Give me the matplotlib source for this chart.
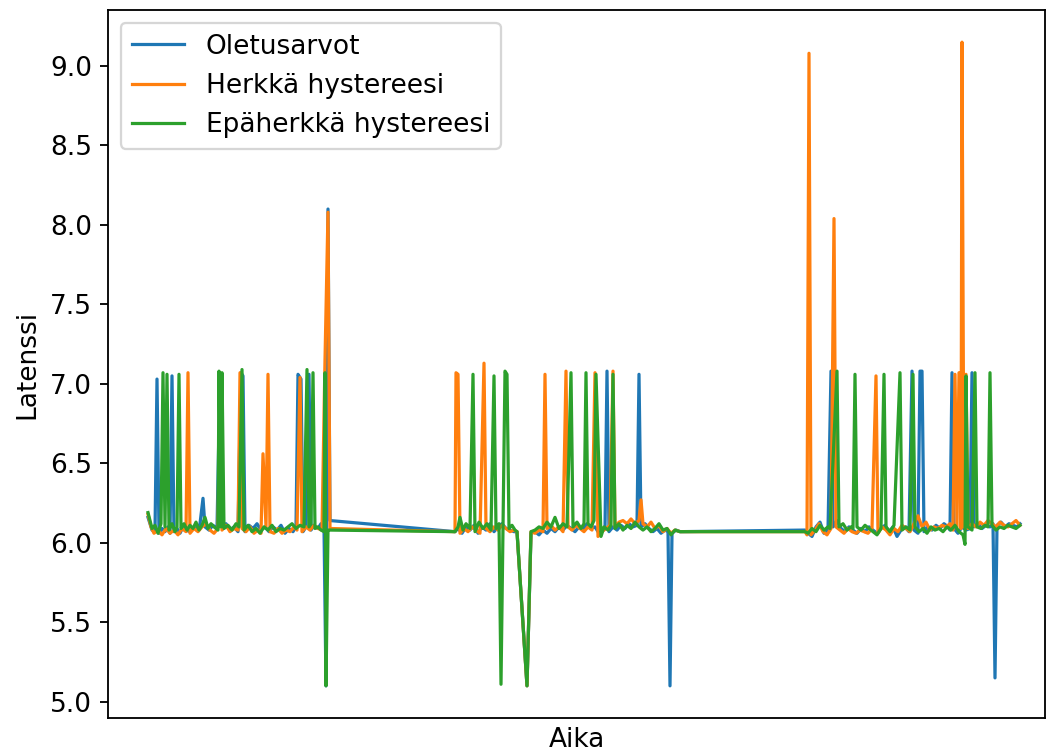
import numpy as np
import matplotlib
matplotlib.use("Agg")
import matplotlib.pyplot as plt

# (aika, latenssi) pairs, aika in arbitrary seconds
oletus = [
    (148, 6.16), (150, 6.12), (152, 6.08), (155, 6.07), (157, 7.03), (159, 6.06), (162, 6.09),
    (165, 6.07), (168, 6.10), (170, 6.06), (172, 7.05), (174, 6.07), (177, 6.09), (180, 6.06),
    (183, 6.10), (186, 6.08), (190, 6.07), (194, 6.10), (197, 6.08), (200, 6.12), (203, 6.28),
    (205, 6.10), (209, 6.08), (213, 6.11), (217, 6.09), (220, 7.05), (222, 6.10), (226, 6.12),
    (230, 6.08), (234, 6.10), (238, 6.07), (241, 7.07), (243, 7.05), (245, 6.07), (249, 6.11),
    (253, 6.09), (257, 6.12), (261, 6.08), (265, 6.10), (269, 6.07), (273, 6.10), (277, 6.08),
    (281, 6.11), (285, 6.06), (289, 6.09), (293, 6.07), (296, 6.10), (298, 7.06), (301, 7.03),
    (303, 6.07), (306, 6.10), (309, 7.06), (311, 6.08), (314, 6.11), (318, 6.09), (321, 6.12),
    (324, 6.10), (326, 5.10), (328, 8.10), (330, 6.14),
    (455, 6.07), (458, 6.09), (462, 6.06), (466, 6.10), (470, 6.08), (474, 6.11), (478, 6.06),
    (482, 6.10), (486, 6.08), (490, 6.12), (494, 6.07), (498, 6.10), (502, 6.12), (506, 6.09),
    (510, 6.08), (514, 6.07), (517, 6.07), (527, 5.10), (531, 6.06), (535, 6.07), (539, 6.05),
    (543, 6.08), (547, 6.06), (551, 6.09), (555, 6.07), (559, 6.10), (563, 6.08), (567, 6.11),
    (571, 6.09), (575, 6.07), (579, 6.10), (583, 6.08), (587, 6.12), (591, 6.09), (595, 6.10),
    (599, 6.06), (603, 6.08), (605, 6.09), (607, 7.08), (609, 6.07), (613, 6.10), (617, 6.08),
    (621, 6.11), (625, 6.09), (629, 6.12), (633, 6.10), (637, 6.11), (639, 7.06), (641, 6.10),
    (645, 6.12), (649, 6.09), (653, 6.07), (657, 6.09), (661, 6.06), (665, 6.08), (668, 6.07),
    (670, 5.10), (672, 6.06), (676, 6.08), (680, 6.07),
    (805, 6.08), (808, 6.06), (812, 6.04), (816, 6.10), (820, 6.13), (824, 6.06), (828, 6.08),
    (831, 7.08), (833, 6.10), (837, 6.14), (841, 6.09), (845, 6.07), (849, 6.10), (853, 6.08),
    (857, 6.06), (861, 6.09), (865, 6.07), (869, 6.10), (873, 6.08), (877, 6.06), (881, 6.09),
    (885, 6.11), (889, 6.07), (893, 6.10), (897, 6.04), (901, 6.08), (905, 6.10), (909, 6.07),
    (912, 7.08), (914, 6.08), (918, 6.06), (920, 7.08), (922, 7.08), (924, 6.07), (928, 6.10),
    (932, 6.08), (936, 6.11), (940, 6.09), (944, 6.12), (948, 6.10), (950, 6.08), (952, 7.07),
    (954, 6.09), (958, 6.06), (962, 6.10), (966, 6.08), (970, 6.09), (972, 7.07), (974, 6.10),
    (978, 6.12), (982, 6.09), (986, 6.11), (990, 6.10), (993, 6.12), (995, 5.15), (997, 6.11),
    (1001, 6.13), (1005, 6.10), (1009, 6.12), (1013, 6.11), (1017, 6.10), (1020, 6.12),
]

herkka = [
    (148, 6.18), (151, 6.10), (154, 6.06), (158, 6.08), (162, 6.05), (166, 6.09), (170, 6.06),
    (174, 6.08), (178, 6.05), (182, 6.09), (186, 6.07), (188, 7.07), (190, 6.06), (194, 6.09),
    (198, 6.07), (202, 6.10), (206, 6.12), (210, 6.08), (214, 6.06), (218, 6.09), (220, 7.07),
    (222, 6.08), (226, 6.11), (230, 6.07), (234, 6.09), (238, 6.08), (240, 7.07), (242, 6.09),
    (246, 6.07), (250, 6.10), (254, 6.06), (258, 6.08), (261, 6.06), (263, 6.56), (266, 6.10),
    (268, 7.06), (270, 6.07), (274, 6.06), (278, 6.09), (282, 6.06), (286, 6.08), (290, 6.07),
    (294, 6.10), (297, 6.08), (300, 7.04), (302, 6.07), (306, 6.10), (310, 6.08), (314, 6.11),
    (318, 6.09), (322, 6.08), (325, 7.15), (328, 8.08), (330, 6.09),
    (455, 6.07), (456, 7.07), (458, 7.06), (460, 6.06), (464, 6.09), (468, 6.07), (472, 6.10),
    (476, 6.08), (480, 6.06), (484, 7.13), (486, 6.09), (490, 6.07), (494, 6.10), (498, 6.08),
    (502, 6.11), (506, 6.09), (510, 6.07), (514, 6.08), (517, 6.07), (527, 5.10), (531, 6.07),
    (535, 6.06), (539, 6.08), (543, 6.07), (545, 7.06), (547, 6.09), (551, 6.11), (555, 6.08),
    (559, 6.10), (563, 6.07), (566, 7.08), (568, 6.10), (572, 6.08), (576, 6.11), (580, 6.09),
    (584, 6.07), (588, 6.10), (592, 6.08), (595, 7.07), (598, 6.04), (602, 6.07), (606, 6.09),
    (610, 6.11), (613, 7.08), (615, 6.10), (619, 6.13), (623, 6.14), (627, 6.12), (631, 6.15),
    (635, 6.12), (639, 6.14), (641, 6.27), (643, 6.12), (647, 6.10), (651, 6.13), (655, 6.09),
    (659, 6.11), (663, 6.07), (667, 6.09), (671, 6.06), (675, 6.08), (680, 6.07),
    (805, 6.07), (807, 6.05), (809, 9.08), (811, 6.05), (815, 6.08), (819, 6.12), (823, 6.07),
    (827, 6.05), (831, 6.09), (834, 8.04), (836, 6.10), (840, 6.08), (844, 6.06), (848, 6.09),
    (852, 6.07), (856, 6.06), (860, 6.08), (864, 6.07), (868, 6.06), (872, 6.09), (876, 7.05),
    (878, 6.06), (882, 6.10), (886, 6.08), (890, 6.05), (894, 6.09), (898, 6.07), (902, 6.11),
    (906, 6.09), (910, 6.07), (914, 6.12), (918, 6.17), (922, 6.10), (926, 6.13), (930, 6.08),
    (934, 6.10), (938, 6.09), (942, 6.11), (946, 6.10), (950, 6.12), (953, 6.08), (955, 7.06),
    (957, 6.10), (959, 7.07), (961, 6.09), (962, 9.15), (964, 6.10), (966, 7.06), (968, 6.09),
    (972, 6.12), (976, 6.10), (980, 6.13), (984, 6.11), (988, 6.14), (992, 6.12), (996, 6.10),
    (1000, 6.13), (1004, 6.11), (1008, 6.10), (1012, 6.12), (1016, 6.14), (1020, 6.11),
]

epaherkka = [
    (148, 6.19), (150, 6.14), (152, 6.09), (155, 6.11), (158, 6.06), (161, 6.12), (163, 7.07),
    (165, 6.10), (167, 7.06), (169, 6.08), (172, 6.12), (175, 6.07), (177, 6.10), (179, 7.06),
    (181, 6.09), (184, 6.12), (187, 6.08), (190, 6.11), (193, 6.09), (196, 6.13), (199, 6.08),
    (202, 6.11), (205, 6.16), (208, 6.09), (211, 6.12), (214, 6.10), (218, 6.08), (219, 7.08),
    (221, 6.10), (222, 7.07), (224, 6.09), (228, 6.11), (232, 6.08), (236, 6.12), (239, 6.10),
    (242, 7.09), (244, 6.08), (248, 6.11), (252, 6.07), (256, 6.09), (260, 6.06), (264, 6.10),
    (268, 6.08), (272, 6.11), (276, 6.07), (280, 6.09), (284, 6.08), (288, 6.10), (292, 6.12),
    (296, 6.09), (300, 6.11), (304, 6.10), (307, 7.09), (309, 6.10), (311, 6.12), (313, 7.07),
    (315, 6.09), (318, 6.10), (321, 6.08), (324, 6.07), (325, 7.07), (326, 5.10), (328, 6.08),
    (330, 6.08),
    (455, 6.07), (458, 6.10), (460, 6.16), (463, 6.08), (466, 6.12), (470, 6.09), (473, 7.06),
    (475, 6.07), (479, 6.13), (483, 6.09), (487, 6.12), (491, 6.08), (494, 7.05), (496, 6.09),
    (499, 6.12), (501, 5.11), (503, 6.10), (505, 7.08), (507, 7.06), (509, 6.09), (512, 6.11),
    (515, 6.08), (517, 6.07), (527, 5.10), (531, 6.07), (535, 6.08), (539, 6.10), (543, 6.09),
    (547, 6.13), (551, 6.10), (555, 6.16), (559, 6.09), (563, 6.12), (567, 6.10), (571, 7.07),
    (573, 6.10), (577, 6.13), (581, 6.09), (584, 6.12), (586, 7.07), (588, 6.12), (591, 6.10),
    (594, 6.14), (596, 7.06), (601, 6.04), (604, 6.10), (608, 6.08), (611, 6.11), (613, 7.06),
    (615, 6.09), (619, 6.12), (623, 6.08), (627, 6.11), (631, 6.09), (635, 6.13), (639, 6.10),
    (643, 6.08), (647, 6.10), (651, 6.07), (655, 6.09), (659, 6.12), (663, 6.08), (667, 6.09),
    (671, 6.05), (675, 6.08), (680, 6.07),
    (805, 6.07), (808, 6.06), (812, 6.09), (816, 6.07), (820, 6.11), (824, 6.08), (828, 6.10),
    (830, 6.09), (837, 7.08), (839, 6.10), (843, 6.12), (847, 6.08), (851, 6.10), (853, 6.09),
    (855, 7.06), (857, 6.10), (861, 6.08), (865, 6.11), (869, 6.09), (873, 6.07), (877, 6.05),
    (881, 6.09), (884, 7.06), (886, 6.10), (890, 6.07), (894, 6.11), (900, 7.07), (902, 6.08),
    (906, 6.10), (910, 6.08), (913, 7.06), (915, 6.10), (919, 6.07), (923, 6.09), (927, 6.06),
    (931, 6.10), (935, 6.08), (939, 6.09), (943, 6.07), (947, 6.10), (951, 6.08), (955, 6.11),
    (959, 6.07), (963, 6.05), (965, 5.99), (966, 7.05), (968, 6.10), (972, 6.08), (975, 7.07),
    (977, 6.10), (981, 6.09), (985, 6.11), (988, 6.10), (990, 7.07), (992, 6.11), (996, 6.08),
    (1000, 6.10), (1004, 6.09), (1008, 6.11), (1012, 6.10), (1016, 6.09), (1020, 6.11),
]

sarjat = [
    ("Oletusarvot", oletus),
    ("Herkkä hystereesi", herkka),
    ("Epäherkkä hystereesi", epaherkka),
]

plt.rcParams['font.size'] = 11.5

fig = plt.figure(figsize=(1057 / 165, 753 / 165), dpi=165)
ax = fig.add_axes([108 / 1057, 1 - 718 / 753, 937 / 1057, 708 / 753])

for nimi, pisteet in sarjat:
    t, v = zip(*pisteet)
    ax.plot(t, v, label=nimi, linewidth=1.4)

ax.set_xlim(108, 1045)
ax.set_xticks([])
ax.set_xlabel("Aika")
ax.set_ylabel("Latenssi")
ax.legend(loc="upper left")

fig.savefig("out.png", dpi=165)
